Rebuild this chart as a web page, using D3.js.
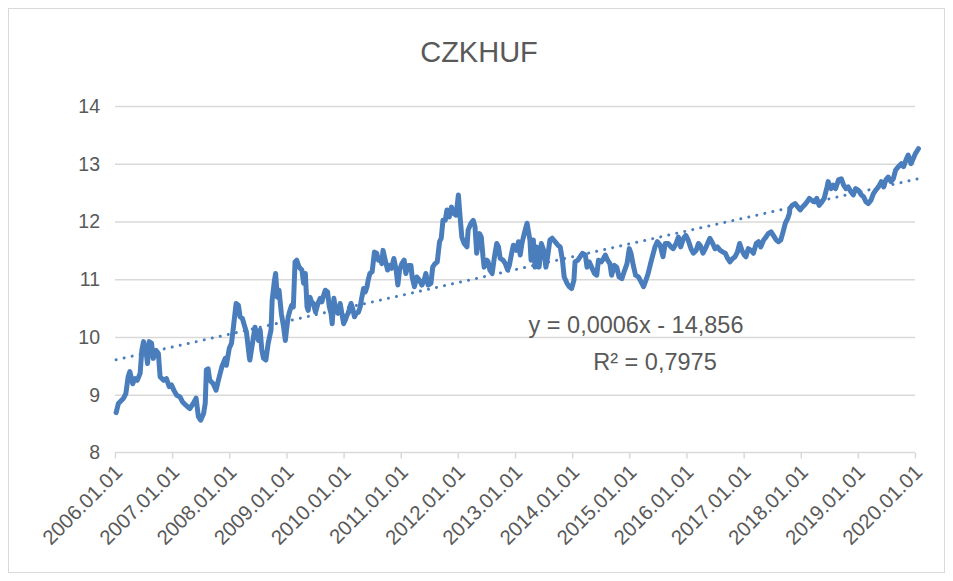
<!DOCTYPE html>
<html><head><meta charset="utf-8">
<script src="https://cdn.jsdelivr.net/npm/d3@7"></script>
<style>
html,body{margin:0;padding:0;background:#fff;}
svg{display:block;}
</style></head>
<body>
<svg id="chart" width="953" height="581"></svg>
<script>
// ---- data (decimal year, CZK/HUF rate) ----
const title = "CZKHUF";
const yTicks = [8, 9, 10, 11, 12, 13, 14];
const xTickYears = [2006,2007,2008,2009,2010,2011,2012,2013,2014,2015,2016,2017,2018,2019,2020];
const trendLabel = ["y = 0,0006x - 14,856", "R² = 0,7975"];
const dates = [
2006.02,2006.06,2006.15,2006.19,2006.23,2006.26,2006.31,2006.35,2006.39,2006.44,2006.47,2006.50,2006.54,2006.57,2006.60,2006.64,2006.67,2006.72,2006.76,2006.79,2006.85,2006.90,2006.95,2006.99,
2007.03,2007.08,2007.14,2007.18,2007.24,2007.31,2007.37,2007.42,2007.46,2007.50,2007.55,2007.58,2007.60,2007.63,2007.66,2007.72,2007.77,2007.81,2007.87,2007.93,2007.95,
2008.00,2008.04,2008.08,2008.12,2008.16,2008.19,2008.23,2008.28,2008.30,2008.35,2008.36,2008.45,2008.51,2008.54,2008.57,2008.60,2008.64,2008.68,2008.73,2008.75,2008.79,2008.81,2008.84,2008.87,2008.91,2008.95,2008.98,
2009.00,2009.03,2009.06,2009.09,2009.12,2009.15,2009.18,2009.22,2009.27,2009.30,2009.33,2009.36,2009.38,2009.41,2009.44,2009.47,2009.51,2009.55,2009.59,2009.62,2009.65,2009.68,2009.72,2009.75,2009.78,2009.80,2009.83,2009.86,2009.90,2009.94,2009.97,
2010.00,2010.03,2010.06,2010.08,2010.13,2010.16,2010.19,2010.22,2010.26,2010.29,2010.32,2010.35,2010.38,2010.41,2010.43,2010.46,2010.50,2010.54,2010.58,2010.61,2010.64,2010.67,2010.69,2010.73,2010.77,2010.80,2010.84,2010.88,2010.92,2010.95,2010.98,
2011.02,2011.06,2011.09,2011.13,2011.18,2011.20,2011.24,2011.28,2011.33,2011.37,2011.41,2011.44,2011.48,2011.53,2011.56,2011.60,2011.64,2011.68,2011.71,2011.74,2011.78,2011.81,2011.85,2011.89,2011.93,2011.97,
2012.01,2012.04,2012.07,2012.11,2012.16,2012.18,2012.23,2012.27,2012.30,2012.33,2012.38,2012.41,2012.44,2012.46,2012.51,2012.53,2012.56,2012.60,2012.64,2012.68,2012.71,2012.74,2012.79,2012.83,2012.87,2012.90,2012.94,2012.97,
2013.02,2013.06,2013.09,2013.12,2013.16,2013.21,2013.23,2013.26,2013.28,2013.32,2013.35,2013.38,2013.42,2013.46,2013.50,2013.54,2013.57,2013.61,2013.65,2013.70,2013.75,2013.79,2013.83,2013.86,2013.91,2013.95,2013.99,
2014.03,2014.05,2014.10,2014.14,2014.18,2014.23,2014.26,2014.30,2014.34,2014.39,2014.43,2014.46,2014.51,2014.55,2014.58,2014.62,2014.66,2014.69,2014.74,2014.78,2014.82,2014.87,2014.91,2014.96,
2015.00,2015.03,2015.07,2015.11,2015.16,2015.21,2015.25,2015.29,2015.33,2015.38,2015.42,2015.45,2015.49,2015.54,2015.59,2015.63,2015.68,2015.73,2015.77,2015.82,2015.86,2015.90,2015.95,2015.99,
2016.03,2016.08,2016.12,2016.17,2016.21,2016.24,2016.29,2016.33,2016.37,2016.41,2016.46,2016.50,2016.54,2016.59,2016.64,2016.68,2016.72,2016.76,2016.81,2016.85,2016.89,2016.93,2016.97,
2017.01,2017.04,2017.08,2017.13,2017.17,2017.22,2017.26,2017.30,2017.35,2017.39,2017.43,2017.48,2017.52,2017.57,2017.61,2017.65,2017.69,2017.73,2017.77,2017.80,2017.81,2017.85,2017.90,2017.95,2017.99,
2018.03,2018.06,2018.11,2018.15,2018.19,2018.24,2018.28,2018.32,2018.37,2018.41,2018.46,2018.48,2018.53,2018.57,2018.61,2018.66,2018.71,2018.75,2018.79,2018.83,2018.88,2018.92,2018.96,
2019.01,2019.06,2019.10,2019.14,2019.18,2019.23,2019.27,2019.31,2019.36,2019.41,2019.45,2019.49,2019.53,2019.58,2019.62,2019.66,2019.71,2019.76,2019.80,2019.84,2019.88,2019.93,2019.97,
2020.01,2020.06
];
const rates = [
8.69,8.85,8.94,9.02,9.31,9.40,9.19,9.28,9.25,9.37,9.77,9.92,9.77,9.54,9.92,9.89,9.63,9.77,9.71,9.31,9.25,9.28,9.14,9.17,
9.08,8.99,8.96,8.88,8.82,8.76,8.85,8.94,8.62,8.56,8.67,8.85,9.43,9.45,9.25,9.19,9.08,9.25,9.48,9.63,9.51,
9.80,9.89,10.23,10.58,10.55,10.35,10.32,10.15,10.09,9.66,9.60,10.17,9.94,10.12,9.77,9.63,9.60,9.89,10.12,10.64,10.98,11.10,10.69,10.81,10.41,10.17,9.94,
10.12,10.35,10.46,10.55,10.52,11.30,11.33,11.21,11.16,10.93,11.10,10.52,10.46,10.69,10.61,10.58,10.43,10.58,10.67,10.61,10.72,10.81,10.78,10.52,10.41,10.23,10.67,10.46,10.41,10.58,10.41,
10.23,10.29,10.38,10.41,10.58,10.49,10.35,10.41,10.43,10.52,10.69,10.84,10.78,10.87,10.98,11.10,11.13,11.47,11.45,11.33,11.36,11.27,11.50,11.33,11.16,11.24,11.19,11.36,11.16,10.90,11.16,
11.27,11.33,11.10,11.24,11.24,11.04,10.87,11.04,10.98,10.90,10.98,11.10,10.90,10.93,11.21,11.27,11.30,11.65,11.71,12.02,12.02,12.20,12.08,12.25,12.14,12.11,
12.46,12.08,11.73,11.62,11.56,11.85,11.97,12.02,11.91,11.45,11.79,11.73,11.39,11.21,11.33,11.30,11.16,11.10,11.39,11.62,11.56,11.36,11.33,11.27,11.16,11.24,11.45,11.59,
11.50,11.65,11.42,11.62,11.79,11.97,11.85,11.68,11.33,11.68,11.21,11.56,11.21,11.62,11.50,11.21,11.39,11.68,11.71,11.65,11.59,11.56,11.33,11.04,10.93,10.87,10.84,
10.98,11.30,11.33,11.39,11.45,11.42,11.21,11.30,11.21,11.10,11.07,11.33,11.30,11.36,11.42,11.33,11.27,11.07,11.24,11.21,11.04,11.01,11.13,11.27,
11.53,11.45,11.24,11.07,11.04,10.95,10.87,10.98,11.10,11.30,11.45,11.56,11.65,11.59,11.39,11.62,11.62,11.56,11.53,11.62,11.73,11.56,11.71,11.76,
11.68,11.53,11.45,11.50,11.62,11.59,11.45,11.53,11.62,11.71,11.62,11.53,11.56,11.50,11.47,11.45,11.36,11.30,11.36,11.39,11.47,11.62,11.50,
11.42,11.39,11.53,11.50,11.45,11.62,11.65,11.56,11.68,11.73,11.79,11.82,11.76,11.68,11.65,11.68,11.82,11.97,12.05,12.14,12.23,12.28,12.31,12.25,12.20,
12.25,12.28,12.34,12.40,12.37,12.34,12.40,12.28,12.34,12.40,12.60,12.69,12.57,12.63,12.57,12.72,12.74,12.63,12.57,12.60,12.51,12.46,12.57,
12.54,12.46,12.43,12.34,12.31,12.37,12.48,12.54,12.60,12.69,12.60,12.72,12.77,12.69,12.74,12.89,12.95,13.00,12.95,13.06,13.15,13.00,13.09,
13.18,13.26
];

// ---- helpers ----
function toDate(dy) {
  const y = Math.floor(dy);
  const start = new Date(y, 0, 1), end = new Date(y + 1, 0, 1);
  return new Date(start.getTime() + (dy - y) * (end - start));
}
const data = dates.map((d, i) => ({ date: toDate(d), value: rates[i] }));

// ---- layout ----
const svg = d3.select("#chart");
const W = 953, H = 581;
const plot = { left: 115, right: 915, top: 106, bottom: 452.5 };
const textColor = "#595959";
const lineColor = "#4a7dbb";
const gridColor = "#d9d9d9";
const fontFam = "'Liberation Sans', Arial, sans-serif";

// outer border
svg.append("rect").attr("x", 8.5).attr("y", 8.5).attr("width", W - 17).attr("height", H - 17)
  .attr("fill", "#fff").attr("stroke", gridColor).attr("stroke-width", 1);

const x = d3.scaleTime()
  .domain([new Date(xTickYears[0], 0, 1), new Date(xTickYears[xTickYears.length - 1], 0, 1)])
  .range([plot.left, plot.right]);
const y = d3.scaleLinear().domain([yTicks[0], yTicks[yTicks.length - 1]]).range([plot.bottom, plot.top]);

// title
svg.append("text").attr("x", 479).attr("y", 62).attr("text-anchor", "middle")
  .attr("font-family", fontFam).attr("font-size", 29).attr("fill", textColor).text(title);

// y gridlines + labels
const yAxis = d3.axisLeft(y).tickValues(yTicks).tickSize(-(plot.right - plot.left)).tickPadding(15).tickFormat(d3.format("d"));
const gy = svg.append("g").attr("transform", `translate(${plot.left},0)`).call(yAxis);
gy.select(".domain").remove();
gy.selectAll(".tick line").attr("stroke", gridColor).attr("stroke-width", 1.5);
gy.selectAll(".tick text").attr("font-family", fontFam).attr("font-size", 19.5).attr("fill", textColor);
gy.selectAll(".tick").filter(d => d === yTicks[0]).select("line").remove();

// x axis
const xAxis = d3.axisBottom(x).tickValues(xTickYears.map(yr => new Date(yr, 0, 1)))
  .tickSize(6).tickFormat(d3.timeFormat("%Y.%m.%d"));
const gx = svg.append("g").attr("transform", `translate(0,${plot.bottom})`).call(xAxis);
gx.select(".domain").attr("stroke", gridColor).attr("stroke-width", 1.5).attr("d", `M${plot.left},0H${plot.right}`);
gx.selectAll(".tick line").attr("stroke", gridColor).attr("stroke-width", 1.5);
gx.selectAll(".tick text")
  .attr("font-family", fontFam).attr("font-size", 20.5).attr("fill", textColor)
  .attr("text-anchor", "end").attr("dy", null).attr("y", 0)
  .attr("transform", "translate(8,21) rotate(-45)");

// series line
const line = d3.line().x(d => x(d.date)).y(d => y(d.value)).curve(d3.curveLinear);
svg.append("path").datum(data).attr("d", line).attr("fill", "none")
  .attr("stroke", lineColor).attr("stroke-width", 5).attr("stroke-linejoin", "round").attr("stroke-linecap", "round");

// linear trendline (least squares on day numbers, like Excel)
const dayMs = 86400000;
const xs = data.map(d => d.date.getTime() / dayMs), ys = data.map(d => d.value);
const n = xs.length, mx = d3.mean(xs), my = d3.mean(ys);
let sxy = 0, sxx = 0;
for (let i = 0; i < n; i++) { sxy += (xs[i] - mx) * (ys[i] - my); sxx += (xs[i] - mx) ** 2; }
const slope = sxy / sxx, icpt = my - slope * mx;
const tEnds = [data[0].date, data[n - 1].date].map(dt => ({ date: dt, value: icpt + slope * dt.getTime() / dayMs }));
svg.append("path").datum(tEnds).attr("d", line).attr("fill", "none")
  .attr("stroke", lineColor).attr("stroke-width", 3).attr("stroke-linecap", "round")
  .attr("stroke-dasharray", "0.01 8.2");

// trendline label
const lbl = svg.append("text").attr("font-family", fontFam).attr("font-size", 23.5).attr("fill", textColor).attr("text-anchor", "middle");
lbl.append("tspan").attr("x", 636).attr("y", 333).text(trendLabel[0]);
lbl.append("tspan").attr("x", 655).attr("y", 370).text(trendLabel[1]);
</script>
</body></html>
